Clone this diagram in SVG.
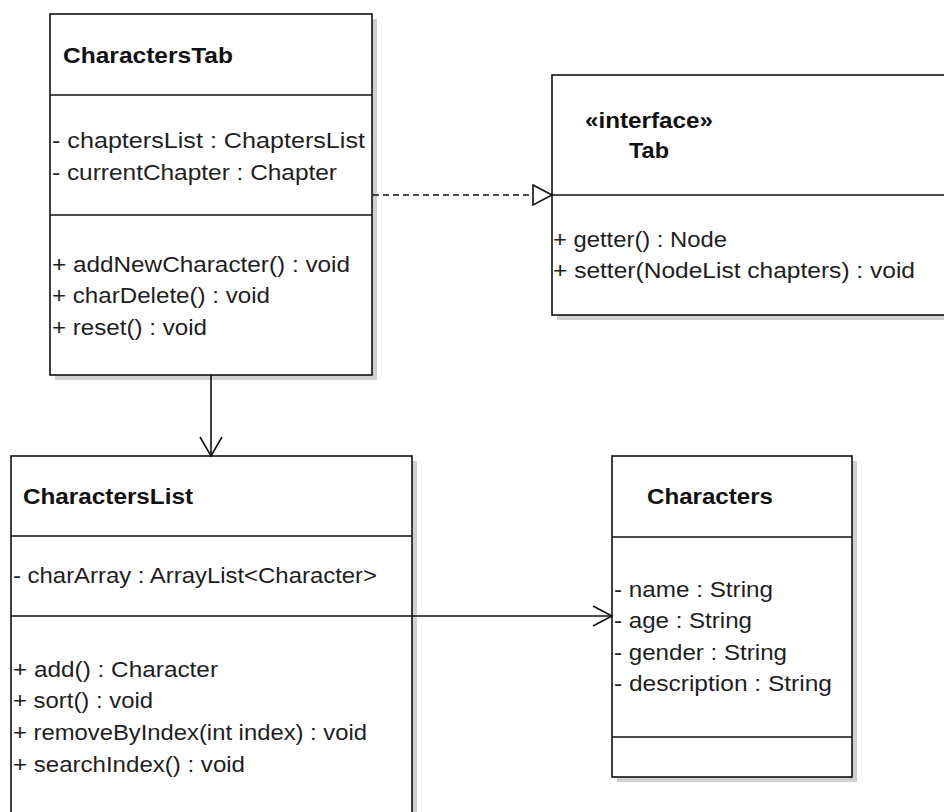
<svg xmlns="http://www.w3.org/2000/svg" width="944" height="812" viewBox="0 0 944 812">
  <style>
    .box { fill: #ffffff; stroke: #111111; stroke-width: 1.6; }
    .shadow { fill: #d0d0d0; }
    .div { stroke: #111111; stroke-width: 1.6; fill: none; }
    .t { font-family: "Liberation Sans", Arial, sans-serif; font-size: 22px; fill: #1e1e1e; }
    .b { font-family: "Liberation Sans", Arial, sans-serif; font-size: 22px; font-weight: bold; fill: #111111; }
    .edge { stroke: #111111; stroke-width: 1.6; fill: none; }
    .dash { stroke-dasharray: 6 4; }
  </style>
  <rect width="944" height="812" fill="#ffffff"/>

  <!-- class CharactersTab -->
  <g id="CharactersTab">
    <rect class="shadow" x="55" y="19" width="322" height="361"/>
    <rect class="box" x="50" y="14" width="322" height="361"/>
    <line class="div" x1="50" y1="95" x2="372" y2="95"/>
    <line class="div" x1="50" y1="215" x2="372" y2="215"/>
    <text class="b" x="63" y="63" textLength="170" lengthAdjust="spacingAndGlyphs">CharactersTab</text>
    <text class="t" x="52" y="148" textLength="313" lengthAdjust="spacingAndGlyphs">- chaptersList : ChaptersList</text>
    <text class="t" x="52" y="180" textLength="285" lengthAdjust="spacingAndGlyphs">- currentChapter : Chapter</text>
    <text class="t" x="52" y="272" textLength="298" lengthAdjust="spacingAndGlyphs">+ addNewCharacter() : void</text>
    <text class="t" x="52" y="303" textLength="218" lengthAdjust="spacingAndGlyphs">+ charDelete() : void</text>
    <text class="t" x="52" y="335" textLength="155" lengthAdjust="spacingAndGlyphs">+ reset() : void</text>
  </g>

  <!-- interface Tab -->
  <g id="Tab">
    <rect class="shadow" x="557" y="80" width="400" height="240"/>
    <rect class="box" x="552" y="75" width="400" height="240"/>
    <line class="div" x1="552" y1="195" x2="952" y2="195"/>
    <text class="b" x="585" y="128" textLength="128" lengthAdjust="spacingAndGlyphs">«interface»</text>
    <text class="b" x="629" y="158" textLength="40" lengthAdjust="spacingAndGlyphs">Tab</text>
    <text class="t" x="553" y="247" textLength="174" lengthAdjust="spacingAndGlyphs">+ getter() : Node</text>
    <text class="t" x="553" y="278" textLength="362" lengthAdjust="spacingAndGlyphs">+ setter(NodeList chapters) : void</text>
  </g>

  <!-- class CharactersList -->
  <g id="CharactersList">
    <rect class="shadow" x="16" y="461" width="401" height="360"/>
    <rect class="box" x="11" y="456" width="401" height="370"/>
    <line class="div" x1="11" y1="536" x2="412" y2="536"/>
    <line class="div" x1="11" y1="616" x2="412" y2="616"/>
    <text class="b" x="23" y="504" textLength="170" lengthAdjust="spacingAndGlyphs">CharactersList</text>
    <text class="t" x="13" y="583" textLength="364" lengthAdjust="spacingAndGlyphs">- charArray : ArrayList&lt;Character&gt;</text>
    <text class="t" x="13" y="677" textLength="205" lengthAdjust="spacingAndGlyphs">+ add() : Character</text>
    <text class="t" x="13" y="708" textLength="140" lengthAdjust="spacingAndGlyphs">+ sort() : void</text>
    <text class="t" x="13" y="740" textLength="354" lengthAdjust="spacingAndGlyphs">+ removeByIndex(int index) : void</text>
    <text class="t" x="13" y="772" textLength="232" lengthAdjust="spacingAndGlyphs">+ searchIndex() : void</text>
  </g>

  <!-- class Characters -->
  <g id="Characters">
    <rect class="shadow" x="617" y="461" width="240" height="321"/>
    <rect class="box" x="612" y="456" width="240" height="321"/>
    <line class="div" x1="612" y1="537" x2="852" y2="537"/>
    <line class="div" x1="612" y1="737" x2="852" y2="737"/>
    <text class="b" x="647" y="504" textLength="126" lengthAdjust="spacingAndGlyphs">Characters</text>
    <text class="t" x="614" y="597" textLength="159" lengthAdjust="spacingAndGlyphs">- name : String</text>
    <text class="t" x="614" y="628" textLength="138" lengthAdjust="spacingAndGlyphs">- age : String</text>
    <text class="t" x="614" y="660" textLength="173" lengthAdjust="spacingAndGlyphs">- gender : String</text>
    <text class="t" x="614" y="691" textLength="218" lengthAdjust="spacingAndGlyphs">- description : String</text>
  </g>

  <!-- relations -->
  <g id="connectors">
    <!-- realization: CharactersTab implements Tab -->
    <line class="edge dash" x1="373" y1="195" x2="533" y2="195"/>
    <polygon points="533,185 552,195 533,205" fill="#ffffff" stroke="#111111" stroke-width="1.6"/>
    <!-- association: CharactersTab to CharactersList -->
    <line class="edge" x1="211" y1="375" x2="211" y2="456"/>
    <polyline class="edge" points="200,437 211,456 222,437"/>
    <!-- association: CharactersList to Characters -->
    <line class="edge" x1="412" y1="616" x2="612" y2="616"/>
    <polyline class="edge" points="593,606 612,616 593,626"/>
  </g>
</svg>
